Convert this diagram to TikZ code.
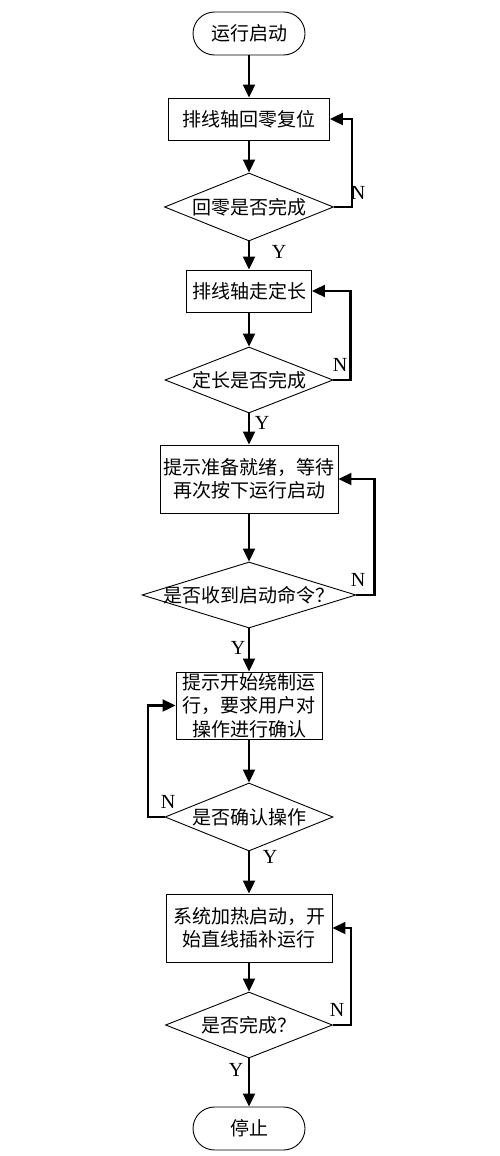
\documentclass[tikz,border=0pt]{standalone}
\usepackage{fontspec}
\setmainfont{Liberation Serif}
\newfontfamily\cjk{Noto Sans CJK SC}
\usetikzlibrary{shapes.geometric,arrows.meta}
\begin{document}
\begin{tikzpicture}[x=1pt,y=-1pt,
  txt/.style={font=\cjk\fontsize{19}{23.5}\selectfont},
  base/.style={draw, line width=0.9pt, txt, inner sep=0pt, align=center},
  term/.style={base, rectangle, rounded corners=21.5pt, minimum width=112pt, minimum height=43pt},
  proc/.style={base, rectangle},
  dec/.style={draw, line width=0.9pt, diamond, inner sep=0pt},
  flow/.style={line width=2.1pt, -{Triangle[length=13pt,width=12pt]}},
  yn/.style={font=\fontsize{20}{20}\selectfont, inner sep=0pt}]
\useasboundingbox (0,0) rectangle (500,1156);
% nodes
\node[term] (start) at (249,33.5) {运行启动};
\node[proc, minimum width=161pt, minimum height=42pt] (b1) at (249,119) {排线轴回零复位};
\node[dec, minimum width=169pt, minimum height=68pt, label={[txt]center:回零是否完成}] (d1) at (249,207) {};
\node[proc, minimum width=125pt, minimum height=42pt] (b2) at (249,291) {排线轴走定长};
\node[dec, minimum width=168pt, minimum height=66pt, label={[txt]center:定长是否完成}] (d2) at (249,380) {};
\node[proc, minimum width=178pt, minimum height=68pt] (b3) at (249,479) {提示准备就绪，等待\\再次按下运行启动};
\node[dec, minimum width=214pt, minimum height=66pt, label={[txt]center:是否收到启动命令？}] (d3) at (249,595) {};
\node[proc, minimum width=146pt, minimum height=67pt] (b4) at (249,705.5) {提示开始绕制运\\行，要求用户对\\操作进行确认};
\node[dec, minimum width=168pt, minimum height=68pt, label={[txt]center:是否确认操作}] (d4) at (249,817) {};
\node[proc, minimum width=166pt, minimum height=68pt] (b5) at (249,928) {系统加热启动，开\\始直线插补运行};
\node[dec, minimum width=167pt, minimum height=66pt, label={[txt]center:是否完成？}] (d5) at (249,1025) {};
\node[term] (stop) at (249,1128.5) {停止};
% main flow
\draw[flow] (start) -- (b1);
\draw[flow] (b1) -- (d1);
\draw[flow] (d1) -- (b2);
\draw[flow] (b2) -- (d2);
\draw[flow] (d2) -- (b3);
\draw[flow] (b3) -- (d3);
\draw[flow] (d3) -- (b4);
\draw[flow] (b4) -- (d4);
\draw[flow] (d4) -- (b5);
\draw[flow] (b5) -- (d5);
\draw[flow] (d5) -- (stop);
% loops
\draw[flow] (d1.east) -- ++(18,0) |- (b1.east);
\draw[flow] (d2.east) -- ++(17,0) |- (b2.east);
\draw[flow] (d3.east) -- ++(18,0) |- (b3.east);
\draw[flow] (d4.west) -- ++(-17,0) |- (b4.west);
\draw[flow] (d5.east) -- ++(18,0) |- (b5.east);
% labels
\node[yn] (n1) at (358,193) {N};
\node[yn] (y1) at (279,252) {Y};
\node[yn] (n2) at (340,365) {N};
\node[yn] (y2) at (262,423) {Y};
\node[yn] (n3) at (358,580) {N};
\node[yn] (y3) at (238,648) {Y};
\node[yn] (n4) at (168,802) {N};
\node[yn] (y4) at (270,857) {Y};
\node[yn] (n5) at (337,1010) {N};
\node[yn] (y5) at (236,1070) {Y};
\end{tikzpicture}
\end{document}
